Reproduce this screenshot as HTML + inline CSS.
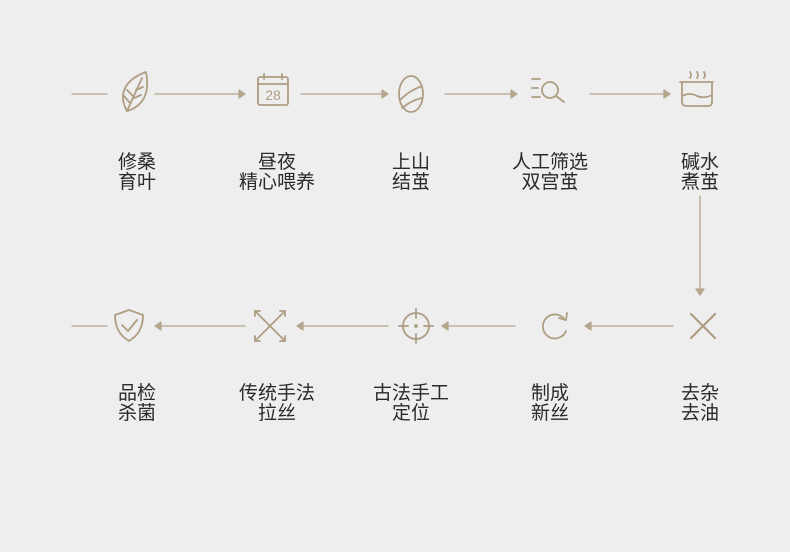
<!DOCTYPE html>
<html><head><meta charset="utf-8"><style>
body{margin:0;width:790px;height:552px;background:#efeeee;position:relative;overflow:hidden;font-family:"Liberation Sans","Noto Sans CJK SC",sans-serif}
.t{position:absolute;width:140px;margin-left:-70px;text-align:center;font-size:19px;line-height:20px;color:#2a2a2a}
svg{position:absolute;left:0;top:0}
</style></head><body>
<svg width="790" height="552" fill="none" stroke="#ae9e83" stroke-width="1.8" stroke-linecap="round" stroke-linejoin="round">
<g stroke-width="1.3" stroke="#b5a68d">
<line x1="72" y1="94" x2="107" y2="94"/>
<line x1="155" y1="94" x2="243" y2="94"/><path d="M239 90 L245 94 L239 98Z" fill="#b5a68d"/>
<line x1="301" y1="94" x2="386" y2="94"/><path d="M382 90 L388 94 L382 98Z" fill="#b5a68d"/>
<line x1="445" y1="94" x2="515" y2="94"/><path d="M511 90 L517 94 L511 98Z" fill="#b5a68d"/>
<line x1="590" y1="94" x2="668" y2="94"/><path d="M664 90 L670 94 L664 98Z" fill="#b5a68d"/>
<line x1="700" y1="196" x2="700" y2="293"/><path d="M696 289 L700 295 L704 289Z" fill="#b5a68d"/>
<line x1="72" y1="326" x2="107" y2="326"/>
<line x1="157" y1="326" x2="245" y2="326"/><path d="M161 322 L155 326 L161 330Z" fill="#b5a68d"/>
<line x1="299" y1="326" x2="388" y2="326"/><path d="M303 322 L297 326 L303 330Z" fill="#b5a68d"/>
<line x1="444" y1="326" x2="515" y2="326"/><path d="M448 322 L442 326 L448 330Z" fill="#b5a68d"/>
<line x1="587" y1="326" x2="673" y2="326"/><path d="M591 322 L585 326 L591 330Z" fill="#b5a68d"/>
</g>
<!-- leaf -->
<path d="M127 111 C118 95 124 80 146 72 C150 92 144 106 127 111Z"/>
<path d="M127 111 L142 78 M130 103 L124 96 M133 96 L127 90 M132 99 L141 95 M136 90 L143 87"/>
<!-- calendar -->
<rect x="258" y="77" width="30" height="28" rx="2"/><line x1="258" y1="84" x2="288" y2="84"/><line x1="264" y1="74" x2="264" y2="79"/><line x1="282" y1="74" x2="282" y2="79"/>
<text x="273" y="100" font-size="14" fill="#ae9e83" stroke="none" text-anchor="middle" font-family="Liberation Sans">28</text>
<!-- cocoon -->
<ellipse cx="411" cy="94" rx="12" ry="18"/><path d="M400 100 Q410 90 422 86 M402 108 Q412 100 422 98"/>
<!-- filter search -->
<path d="M532 79 H540 M532 88 H538 M532 97 H540"/><circle cx="550" cy="90" r="8"/><line x1="556" y1="96" x2="564" y2="102"/>
<!-- pot -->
<path d="M680 82 H713 M682 82 V102 Q682 106 686 106 H708 Q712 106 712 102 V82 M682 96 Q690 92 697 96 Q704 99 712 95"/><path d="M690 72 q2 3 0 6 M697 72 q2 3 0 6 M704 72 q2 3 0 6"/>
<!-- shield -->
<path d="M129 310 L143 315 Q143 333 129 341 Q115 333 115 315Z"/><path d="M122 325 L128 331 L137 320"/>
<!-- cross arrows -->
<path d="M255 311 L285 341 M285 311 L255 341"/><path d="M255 311 l5 0 M255 311 l0 5 M285 311 l-5 0 M285 311 l0 5 M255 341 l5 0 M255 341 l0 -5 M285 341 l-5 0 M285 341 l0 -5"/>
<!-- crosshair -->
<circle cx="416" cy="326" r="13"/><path d="M416 309 V318 M416 334 V343 M399 326 H408 M424 326 H433"/><circle cx="416" cy="326" r="1" fill="#ae9e83"/>
<!-- refresh -->
<path d="M565 320 A12 12 0 1 0 566 331"/><path d="M559 318 L566 320 L567 313"/>
<!-- X -->
<path d="M691 314 L715 338 M715 314 L691 338" stroke-width="2.2"/>
</svg>
<div class="t" style="left:137px;top:153px">修桑<br>育叶</div>
<div class="t" style="left:277px;top:153px">昼夜<br>精心喂养</div>
<div class="t" style="left:411px;top:153px">上山<br>结茧</div>
<div class="t" style="left:550px;top:153px">人工筛选<br>双宫茧</div>
<div class="t" style="left:700px;top:153px">碱水<br>煮茧</div>
<div class="t" style="left:137px;top:384px">品检<br>杀菌</div>
<div class="t" style="left:277px;top:384px">传统手法<br>拉丝</div>
<div class="t" style="left:411px;top:384px">古法手工<br>定位</div>
<div class="t" style="left:550px;top:384px">制成<br>新丝</div>
<div class="t" style="left:700px;top:384px">去杂<br>去油</div>
</body></html>
